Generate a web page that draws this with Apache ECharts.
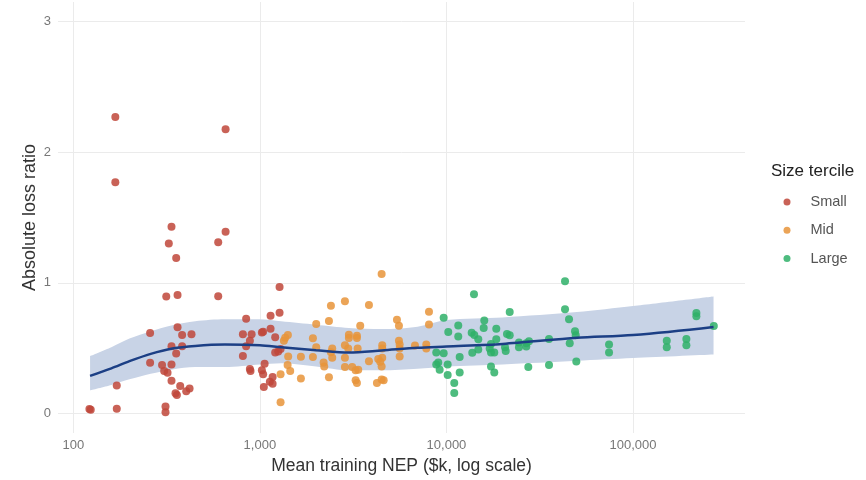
<!DOCTYPE html>
<html><head><meta charset="utf-8">
<script src="https://cdn.jsdelivr.net/npm/echarts@6/dist/echarts.min.js"></script>
<style>html,body{margin:0;padding:0;background:#fff}#c{width:866px;height:480px}</style>
</head><body><div id="c"></div>
<script>
const xTicks = [100, 1000, 10000, 100000];
const yTicks = [0, 1, 2, 3];
const seriesNames = ['Small', 'Mid', 'Large'];

const small = [[168,2.27],[655,2.175],[168,1.77],[336,1.43],[655,1.39],[325,1.30],[598,1.31],[356,1.19],[315,0.895],[362,0.907],[598,0.897],[844,0.725],[362,0.66],[258,0.616],[383,0.60],[430,0.606],[811,0.606],[903,0.606],[336,0.515],[383,0.515],[844,0.515],[356,0.459],[811,0.439],[258,0.388],[299,0.37],[336,0.375],[307,0.325],[320,0.312],[884,0.34],[891,0.325],[336,0.25],[171,0.213],[374,0.21],[420,0.19],[403,0.17],[359,0.14],[353,0.155],[122,0.033],[124,0.028],[171,0.035],[312,0.053],[312,0.008],[1275,0.968],[1141,0.748],[1275,0.77],[1141,0.649],[1025,0.62],[1041,0.625],[1208,0.583],[884,0.557],[1208,0.466],[1254,0.474],[1291,0.494],[1025,0.33],[1041,0.30],[1060,0.38],[1170,0.279],[1131,0.243],[1170,0.228],[1050,0.203]];

const mid = [[4493,1.067],[2856,0.859],[2403,0.824],[3842,0.831],[8059,0.778],[2345,0.707],[2004,0.684],[3450,0.672],[5428,0.717],[5563,0.672],[8059,0.68],[1413,0.60],[1367,0.58],[1345,0.557],[1924,0.576],[3000,0.603],[3000,0.578],[3312,0.595],[3312,0.578],[2004,0.507],[2442,0.497],[2403,0.469],[2442,0.426],[2856,0.522],[2975,0.497],[3341,0.497],[4527,0.522],[4527,0.497],[5563,0.557],[5612,0.527],[5612,0.497],[5612,0.436],[6779,0.52],[7795,0.527],[7795,0.497],[1418,0.436],[1659,0.433],[1924,0.431],[2856,0.426],[3842,0.40],[4309,0.416],[4416,0.395],[2196,0.39],[2212,0.36],[1408,0.37],[1454,0.325],[1291,0.30],[2856,0.355],[3125,0.355],[3259,0.33],[3366,0.335],[4493,0.36],[4527,0.426],[1659,0.268],[2345,0.276],[3259,0.253],[3312,0.233],[4240,0.233],[4493,0.259],[4606,0.253],[1291,0.086]];

const large = [[43196,1.011],[14045,0.913],[21825,0.776],[43196,0.798],[9661,0.733],[45379,0.72],[15947,0.712],[15830,0.654],[11568,0.674],[10225,0.624],[11568,0.588],[13650,0.618],[14097,0.60],[14809,0.568],[18493,0.649],[18493,0.568],[21109,0.608],[21825,0.598],[17322,0.532],[17045,0.497],[20596,0.507],[20773,0.477],[24466,0.542],[24466,0.507],[26784,0.537],[26784,0.512],[27692,0.553],[35449,0.57],[48865,0.629],[49290,0.598],[45779,0.537],[74356,0.527],[74356,0.466],[14809,0.489],[13751,0.464],[17322,0.466],[18043,0.466],[8817,0.466],[9661,0.461],[11770,0.431],[9037,0.39],[8817,0.375],[9194,0.335],[10149,0.375],[10149,0.294],[11770,0.314],[17322,0.36],[18043,0.314],[27452,0.355],[35449,0.37],[49654,0.398],[11012,0.233],[11012,0.157],[151600,0.557],[151600,0.507],[193130,0.57],[193130,0.522],[218480,0.768],[218480,0.743],[270890,0.669]];

const smoothX   = [123,160,200,260,340,450,650,1000,1300,2000,3000,4500,7000,10000,20000,50000,100000,270000];
const smoothFit = [0.287,0.345,0.40,0.456,0.497,0.517,0.527,0.522,0.507,0.484,0.466,0.482,0.502,0.512,0.532,0.579,0.60,0.662];
const smoothLo  = [0.177,0.218,0.261,0.304,0.337,0.355,0.355,0.375,0.385,0.36,0.33,0.33,0.342,0.36,0.375,0.403,0.424,0.451];
const smoothHi  = [0.439,0.507,0.573,0.629,0.675,0.705,0.72,0.72,0.705,0.679,0.654,0.646,0.664,0.715,0.735,0.776,0.822,0.895];

const colors = ['#C0473A', '#E8943A', '#2FB068'];
const groups = [small, mid, large];
const FONT = 'Liberation Sans, Arial, sans-serif';

const chart = echarts.init(document.getElementById('c'), null, {renderer: 'canvas'});
const fmt = v => Number(v).toLocaleString('en-US');

// band: value first (stacked dim), x second
const series = [
  {
    name: 'band-lo', type: 'line', stack: 'band', symbol: 'none', smooth: 0.3, silent: true,
    encode: {x: 1, y: 0},
    data: smoothX.map((x, i) => [smoothLo[i], x]),
    lineStyle: {opacity: 0}, z: 1
  },
  {
    name: 'band', type: 'line', stack: 'band', symbol: 'none', smooth: 0.3, silent: true,
    encode: {x: 1, y: 0},
    data: smoothX.map((x, i) => [+(smoothHi[i] - smoothLo[i]).toFixed(3), x]),
    lineStyle: {opacity: 0}, areaStyle: {color: '#C8D3E6', opacity: 1}, z: 1
  }
];
groups.forEach((g, k) => {
  series.push({
    name: seriesNames[k], type: 'scatter', data: g, symbolSize: 8,
    itemStyle: {color: colors[k], opacity: 0.85}, z: 3
  });
});
series.push({
  name: 'fit', type: 'line', symbol: 'none', smooth: 0.3, silent: true,
  data: smoothX.map((x, i) => [x, smoothFit[i]]),
  lineStyle: {color: '#1C3F85', width: 2.5}, z: 4
});

chart.setOption({
  animation: false,
  backgroundColor: '#ffffff',
  grid: {left: 58, right: 121, top: 2, bottom: 44, containLabel: false},
  title: {
    text: 'Size tercile', left: 771, top: 163, padding: 0,
    textStyle: {fontFamily: FONT, fontSize: 17, fontWeight: 'normal', color: '#222'}
  },
  legend: {
    data: seriesNames, orient: 'vertical', left: 783.5, top: 194, padding: 0,
    icon: 'circle', itemWidth: 7, itemHeight: 7, itemGap: 12.3,
    textStyle: {fontFamily: FONT, fontSize: 14.5, color: '#555', lineHeight: 16, padding: [0,0,0,15]}
  },
  xAxis: {
    type: 'log', logBase: 10, min: 82.8, max: 398100,
    name: 'Mean training NEP ($k, log scale)', nameLocation: 'middle', nameGap: 24,
    nameMoveOverlap: false,
    nameTextStyle: {fontFamily: FONT, fontSize: 17.5, color: '#333'},
    axisLine: {show: false}, axisTick: {show: false, customValues: xTicks},
    axisLabel: {customValues: xTicks, formatter: fmt, margin: 6, color: '#777', fontSize: 13, fontFamily: FONT},
    splitLine: {show: true, lineStyle: {color: '#EBEBEB', width: 1}},
    minorSplitLine: {show: false}
  },
  yAxis: {
    type: 'value', min: -0.15, max: 3.15,
    name: 'Absolute loss ratio', nameLocation: 'middle', nameGap: 19, nameRotate: 90,
    nameMoveOverlap: false,
    nameTextStyle: {fontFamily: FONT, fontSize: 18, color: '#333'},
    axisLine: {show: false}, axisTick: {show: false, customValues: yTicks},
    axisLabel: {customValues: yTicks, margin: 7, color: '#777', fontSize: 13, fontFamily: FONT},
    splitLine: {show: true, lineStyle: {color: '#EBEBEB', width: 1}}
  },
  series: series
});
</script>
</body></html>
